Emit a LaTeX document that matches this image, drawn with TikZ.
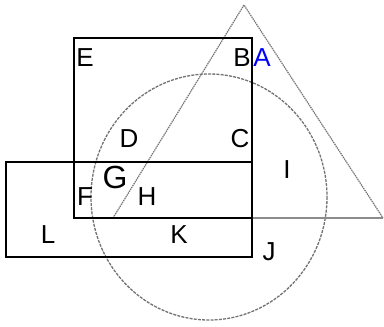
\documentclass[tikz,border=0pt]{standalone}
\usepackage{fontspec}
\setmainfont{Liberation Sans}
\begin{document}
\begin{tikzpicture}[x=1pt,y=-1pt,
  lbl/.style={inner sep=0pt,font=\fontsize{26}{26}\selectfont},
  biglbl/.style={inner sep=0pt,font=\fontsize{32}{32}\selectfont},
  box/.style={draw=black,line width=2.9pt},
  tri/.style={draw=black!55,line width=1.2pt,dash pattern=on 1.4pt off 0.8pt},
  triBase/.style={draw=black!45,line width=1.1pt},
  circ/.style={draw=black!55,line width=1.3pt,dash pattern=on 3pt off 1.2pt}]
\useasboundingbox (0,0) rectangle (384,327);
\fill[white] (0,0) rectangle (384,327);
% triangle vertices
\coordinate (TA) at (244,5);
\coordinate (TL) at (113,218);
\coordinate (TR) at (383,218);
% circle
\draw[circ] (209,197) ellipse [x radius=118, y radius=123];
% triangle
\draw[tri] (TL) -- (TA) -- (TR);
\draw[triBase] (TL) -- (TR);
% rectangles
\draw[box] (74,38) rectangle (252,218);
\draw[box] (6,162) rectangle (252,257);
% labels
\node[lbl] (E) at (85,57.5) {E};
\node[lbl] (B) at (242,57.5) {B};
\node[lbl,text=blue] (A) at (262,57.5) {A};
\node[lbl] (D) at (129,138.5) {D};
\node[lbl] (C) at (240,139) {C};
\node[biglbl] (G) at (115,177) {G};
\node[lbl] (F) at (85,197) {F};
\node[lbl] (H) at (147,197) {H};
\node[lbl] (I) at (287,170) {I};
\node[lbl] (L) at (48,235) {L};
\node[lbl] (K) at (179,235) {K};
\node[lbl] (J) at (269,252) {J};
\end{tikzpicture}
\end{document}
